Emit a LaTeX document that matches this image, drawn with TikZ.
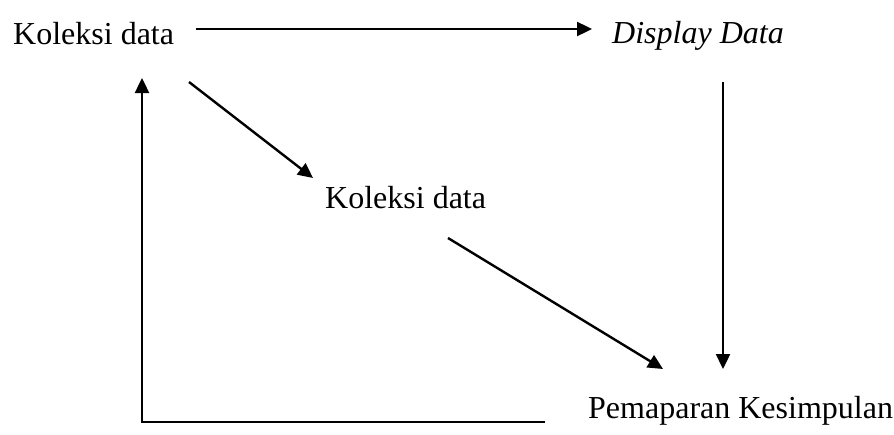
\documentclass[tikz,border=0pt]{standalone}
\usepackage{fontspec}
\setmainfont{Liberation Serif}
\usetikzlibrary{arrows.meta}
\tikzset{
  lbl/.style={inner sep=0pt, anchor=base west, font=\fontsize{32}{36}\selectfont},
  conn/.style={line width=2.4pt},
  arr/.style={conn, -{Triangle[length=15pt,width=14pt]}}
}
\begin{document}
\begin{tikzpicture}[x=1pt,y=-1pt]
\useasboundingbox (0,0) rectangle (894,434);
\node[lbl] (k1) at (13,44) {Koleksi data};
\node[lbl] (dd) at (612,43) {\itshape Display Data};
\node[lbl] (k2) at (325,208) {Koleksi data};
\node[lbl] (pk) at (588,418) {Pemaparan Kesimpulan};
% connector end points
\coordinate (t1) at (196,29);
\coordinate (t2) at (592,29);
\coordinate (d1) at (189,82);
\coordinate (d2) at (313,178);
\coordinate (e1) at (448,238);
\coordinate (e2) at (663,369);
\coordinate (v1) at (723,82);
\coordinate (v2) at (723,369);
\coordinate (f1) at (545,422);
\coordinate (f2) at (142,422);
\coordinate (f3) at (142,78);
\draw[arr] (t1) -- (t2);
\draw[arr] (d1) -- (d2);
\draw[arr] (e1) -- (e2);
\draw[arr] (v1) -- (v2);
\draw[arr] (f1) -- (f2) -- (f3);
\end{tikzpicture}
\end{document}
